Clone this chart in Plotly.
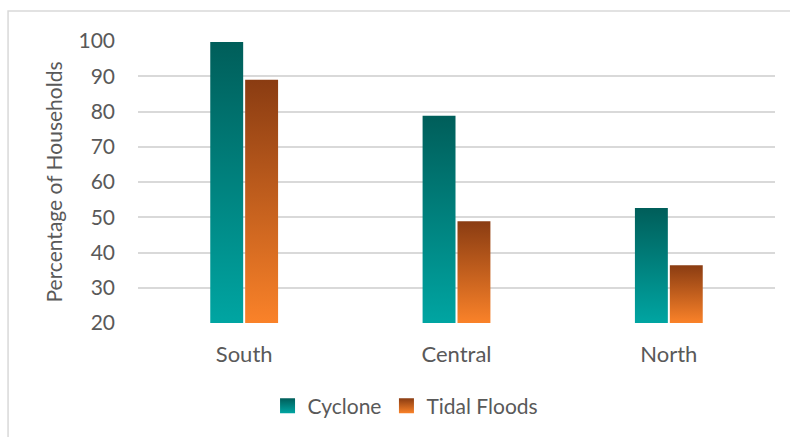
import plotly.graph_objects as go

# Share of households affected, by region and hazard
regions = ["South", "Central", "North"]
cyclone = [99.7, 78.8, 52.6]
tidal_floods = [89.0, 48.9, 36.4]
y_ticks = [20, 30, 40, 50, 60, 70, 80, 90, 100]

# (name, values, top colour, bottom colour)
series = [
    ("Cyclone", cyclone, "#005e5a", "#00a5a2"),
    ("Tidal Floods", tidal_floods, "#8a3c12", "#fa8229"),
]

FONT = "Lato, 'Open Sans', sans-serif"
TEXT = "#595959"
GRID = "#d9d9d9"
Y_MIN, Y_MAX = 20, 100
BAR_W = 0.155     # bar width in category units
BAR_GAP = 0.0094  # gap between the two bars of a group

fig = go.Figure()

for s_idx, (name, values, top_c, bot_c) in enumerate(series):
    for c_idx, v in enumerate(values):
        if s_idx == 0:
            x0 = c_idx - BAR_GAP / 2 - BAR_W
        else:
            x0 = c_idx + BAR_GAP / 2
        x1 = x0 + BAR_W
        fig.add_trace(go.Scatter(
            x=[x0, x1, x1, x0, x0],
            y=[Y_MIN, Y_MIN, v, v, Y_MIN],
            mode="lines",
            line=dict(width=0),
            fill="toself",
            fillgradient=dict(
                type="vertical",
                colorscale=[[0, bot_c], [1, top_c]],
            ),
            name=name,
            legendgroup=name,
            showlegend=False,
            hovertemplate=f"{regions[c_idx]}<br>{name}: {v}<extra></extra>",
        ))
    # legend entry with a gradient square
    fig.add_trace(go.Scatter(
        x=[None], y=[None],
        mode="markers",
        marker=dict(symbol="square", size=15, color=top_c,
                    gradient=dict(type="vertical", color=bot_c),
                    line=dict(width=0)),
        name=name,
        legendgroup=name,
        showlegend=True,
    ))

fig.update_layout(
    width=790,
    height=437,
    margin=dict(l=138, r=15, t=41, b=113),
    paper_bgcolor="white",
    plot_bgcolor="white",
    font=dict(family=FONT, size=21, color=TEXT),
    showlegend=True,
    legend=dict(
        orientation="h",
        x=0.42, xanchor="center",
        y=-0.29, yanchor="middle",
        font=dict(family=FONT, size=21, color=TEXT),
        itemwidth=30,
        traceorder="normal",
    ),
    xaxis=dict(
        range=[-0.5, 2.5],
        tickmode="array",
        tickvals=list(range(len(regions))),
        ticktext=regions,
        showgrid=False,
        zeroline=False,
        showline=False,
        ticks="",
        ticklabelstandoff=16,
        tickfont=dict(family=FONT, size=22, color=TEXT),
        fixedrange=True,
    ),
    yaxis=dict(
        range=[Y_MIN, Y_MAX],
        tickmode="array",
        tickvals=y_ticks,
        showgrid=True,
        gridcolor=GRID,
        gridwidth=2,
        zeroline=False,
        showline=False,
        ticks="",
        ticklabelstandoff=22,
        tickfont=dict(family=FONT, size=21, color=TEXT),
        title=dict(text="Percentage of Households",
                   font=dict(family=FONT, size=21, color=TEXT),
                   standoff=10),
        fixedrange=True,
    ),
    shapes=[dict(
        type="rect", xref="paper", yref="paper",
        x0=-0.204, x1=1.06, y0=-0.5, y1=1.106,
        line=dict(color=GRID, width=1.5),
        fillcolor="rgba(0,0,0,0)",
        layer="below",
    )],
)

fig.write_html("out.html")
